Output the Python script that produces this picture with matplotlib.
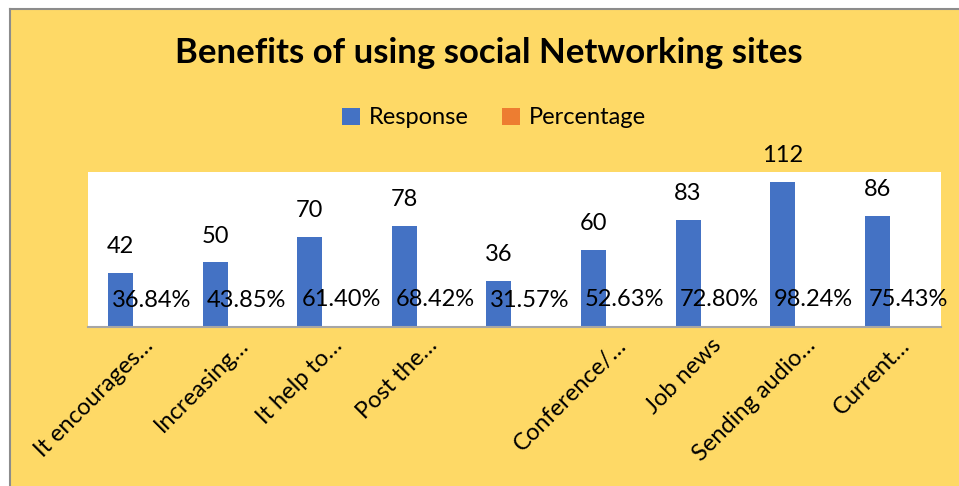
import numpy as np
import matplotlib
matplotlib.use('Agg')
import matplotlib.pyplot as plt
from matplotlib.patches import Rectangle
from matplotlib.transforms import ScaledTranslation

plt.rcParams['font.family'] = ['Lato', 'DejaVu Sans']

categories = ['It encourages…', 'Increasing…', 'It help to…', 'Post the…', '',
              'Conference/…', 'Job news', 'Sending audio…', 'Current…']
response = [42, 50, 70, 78, 36, 60, 83, 112, 86]
percentage = [0.3684, 0.4385, 0.6140, 0.6842, 0.3157, 0.5263, 0.7280, 0.9824, 0.7543]
pct_labels = ['36.84%', '43.85%', '61.40%', '68.42%', '31.57%', '52.63%',
              '72.80%', '98.24%', '75.43%']

W, H = 959, 486
fig = plt.figure(figsize=(W / 100, H / 100), dpi=100)
fig.patch.set_facecolor('white')

# chart area background with grey border on top/left
fig.patches.append(Rectangle((10 / W, 0), 1, 1 - 10 / H, transform=fig.transFigure,
                             facecolor='#FED966', edgecolor='none', zorder=-5))
fig.add_artist(plt.Line2D([9.5 / W, 9.5 / W], [0, 1 - 9.5 / H], color='#8C8C8C', lw=1.5,
                          transform=fig.transFigure, zorder=-4))
fig.add_artist(plt.Line2D([9.5 / W, 1], [1 - 9.5 / H, 1 - 9.5 / H], color='#8C8C8C', lw=1.5,
                          transform=fig.transFigure, zorder=-4))

ax = fig.add_axes([88 / W, (H - 327) / H, (941 - 88) / W, (327 - 172) / H])
ax.set_facecolor('white')

x = np.arange(len(categories))
w = 0.264
off = 0.165
b1 = ax.bar(x - off, response, w, color='#4472C4', label='Response')
b2 = ax.bar(x + off, percentage, w, color='#ED7D31', label='Percentage')

for xi, v in zip(x, response):
    ax.annotate(str(v), (xi - off, v), xytext=(0, 19), textcoords='offset points',
                ha='center', va='center', fontsize=17, color='black', annotation_clip=False)
for xi, v, s in zip(x, percentage, pct_labels):
    ax.annotate(s, (xi + off, v), xytext=(0, 19), textcoords='offset points',
                ha='center', va='center', fontsize=17, color='black', annotation_clip=False)

ax.set_xlim(-0.51, len(categories) - 0.49)
ax.set_ylim(0, 120)
ax.set_yticks([])
ax.set_xticks(x)
ax.set_xticklabels(categories, rotation=45, ha='right', va='center',
                   rotation_mode='anchor', fontsize=17)
ax.tick_params(axis='x', length=0, pad=0)
shift = ScaledTranslation(14 / 100, -15 / 100, fig.dpi_scale_trans)
for lab in ax.get_xticklabels():
    lab.set_transform(lab.get_transform() + shift)

for s in ['top', 'left', 'right']:
    ax.spines[s].set_visible(False)
ax.spines['bottom'].set_color('#A6A6A6')
ax.spines['bottom'].set_linewidth(1.5)

fig.text(489 / W, 1 - 53 / H, 'Benefits of using social Networking sites',
         ha='center', va='center', fontsize=25, fontweight='bold')

fig.legend(handles=[b1, b2], loc='center', bbox_to_anchor=(494 / W, 1 - 118 / H),
           ncol=2, frameon=False, fontsize=17, handlelength=0.75, handleheight=0.75,
           handletextpad=0.4, columnspacing=1.4)

fig.savefig('out.png', dpi=100)
